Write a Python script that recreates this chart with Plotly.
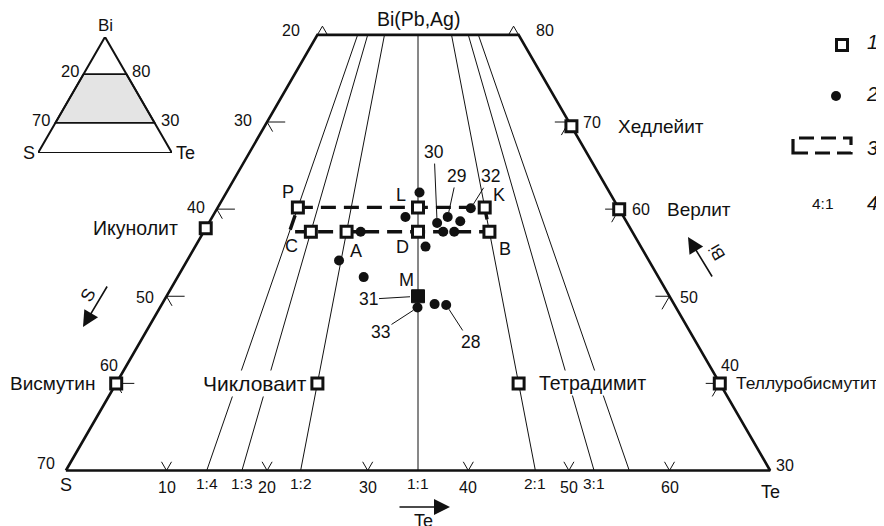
import math
import plotly.graph_objects as go

# ---------------- data (atomic %) ----------------
BI_BOTTOM, BI_TOP = 30, 80

# Te:S ratio lines radiating from the Bi apex
ratio_te = [1, 1, 1, 1, 2, 3, 4]
ratio_s = [4, 3, 2, 1, 1, 1, 1]
ratio_labels = ["1:4", "1:3", "1:2", "1:1", "2:1", "3:1", ""]

bottom_tick_te = [10, 20, 30, 40, 50, 60]
left_tick_s = [30, 40, 50, 60]
right_tick_bi = [70, 60, 50, 40]

# natural minerals (open squares)
mineral_names = ["Икунолит", "Висмутин", "Хедлейит", "Верлит",
                 "Теллуробисмутит", "Чикловаит", "Тетрадимит"]
mineral_bi = [57.8, 40.0, 69.5, 60.0, 40.0, 40.0, 40.0]
mineral_te = [0.0, 0.0, 30.5, 40.0, 60.0, 20.0, 40.0]

# synthetic phases (open squares)
phase_names = ["P", "L", "K", "C", "A", "D", "B"]
phase_bi = [60.2, 60.2, 60.2, 57.4, 57.4, 57.4, 57.4]
phase_te = [7.96, 19.9, 26.53, 10.65, 14.2, 21.3, 28.4]

# phase M (filled square)
m_bi = [50.0]
m_te = [25.0]

# dashed field (item 3)
field_bi = [60.2, 60.2, 57.4, 57.4, 60.2]
field_te = [7.96, 26.53, 28.4, 8.52, 7.96]

# analyses (dots)
dot_bi = [61.9, 60.1, 59.1, 59.1, 58.4, 58.6, 57.4, 57.4, 57.4,
          55.7, 54.1, 52.2, 48.7, 49.1, 49.0]
dot_te = [19.2, 25.2, 19.2, 23.4, 22.7, 24.9, 15.6, 23.8, 24.9,
          22.9, 15.1, 18.5, 25.6, 27.1, 28.3]

# numbered analyses
num_labels = ["28", "29", "30", "31", "32", "33"]
num_bi = [49.0, 59.1, 58.4, 50.0, 60.1, 48.7]
num_te = [28.3, 23.4, 22.7, 25.0, 25.2, 25.6]

# inset (schematic)
inset_band_bi = [68, 26]
inset_left_labels = ["20", "70"]
inset_right_labels = ["80", "30"]

# ---------------- helpers ----------------
SQ = math.sqrt(3) / 2
OFF = 8            # page body margin of the html page
W, H = 884 - OFF, 526 - OFF
PXU = 10.06        # pixels per composition unit


def X(bi, te):
    return te + bi / 2.0


def Y(bi):
    return bi * SQ


def P(px, py):
    """screen pixel -> paper fraction (decorations only)"""
    return (px - OFF) / W, 1 - (py - OFF) / H


BLACK = "#111111"
FONT = "Liberation Sans, Arial, sans-serif"

fig = go.Figure()

# ratio lines
lx, ly = [], []
for t, s in zip(ratio_te, ratio_s):
    for bi in (BI_TOP, BI_BOTTOM):
        te = (100 - bi) * t / (t + s)
        lx.append(X(bi, te))
        ly.append(Y(bi))
    lx.append(None)
    ly.append(None)
fig.add_trace(go.Scatter(x=lx, y=ly, mode="lines",
                         line=dict(color=BLACK, width=1), hoverinfo="skip"))

# tick strokes
tkx, tky = [], []


def seg(b1, t1, b2, t2):
    tkx.extend([X(b1, t1), X(b2, t2), None])
    tky.extend([Y(b1), Y(b2), None])


for te in bottom_tick_te:
    seg(BI_BOTTOM, te, BI_BOTTOM + 1.0, te)
    seg(BI_BOTTOM, te, BI_BOTTOM + 1.0, te - 1.0)
for s in left_tick_s:
    bi = 100 - s
    seg(bi, 0, bi, 1.8)
    seg(bi, 0, bi - 1.1, 1.1)
for b in right_tick_bi:
    te = 100 - b
    seg(b, te, b, te - 1.4)
    seg(b, te, b - 1.5, te)
# corner carets
seg(BI_TOP, 0, BI_TOP + 1, 0)
seg(BI_TOP + 1, 0, BI_TOP, 1)
seg(BI_TOP, 20, BI_TOP + 1, 19)
seg(BI_TOP + 1, 19, BI_TOP, 19)
fig.add_trace(go.Scatter(x=tkx, y=tky, mode="lines",
                         line=dict(color=BLACK, width=1), hoverinfo="skip"))

# trapezoid outline
ob = [BI_BOTTOM, BI_TOP, BI_TOP, BI_BOTTOM, BI_BOTTOM]
ot = [0, 0, 100 - BI_TOP, 100 - BI_BOTTOM, 0]
fig.add_trace(go.Scatter(x=[X(b, t) for b, t in zip(ob, ot)], y=[Y(b) for b in ob],
                         mode="lines", line=dict(color=BLACK, width=2.6),
                         hoverinfo="skip"))

# dashed field
fig.add_trace(go.Scatter(x=[X(b, t) for b, t in zip(field_bi, field_te)],
                         y=[Y(b) for b in field_bi], mode="lines",
                         line=dict(color=BLACK, width=3.4, dash="15px,8px"),
                         hoverinfo="skip"))

# dots
fig.add_trace(go.Scatter(x=[X(b, t) for b, t in zip(dot_bi, dot_te)],
                         y=[Y(b) for b in dot_bi], mode="markers",
                         marker=dict(color=BLACK, size=10, line=dict(width=0)),
                         hoverinfo="skip"))

# squares
sq_bi = mineral_bi + phase_bi
sq_te = mineral_te + phase_te
fig.add_trace(go.Scatter(x=[X(b, t) for b, t in zip(sq_bi, sq_te)],
                         y=[Y(b) for b in sq_bi], mode="markers",
                         marker=dict(symbol="square", color="white", size=11,
                                     line=dict(color=BLACK, width=3)),
                         hoverinfo="skip"))
fig.add_trace(go.Scatter(x=[X(b, t) for b, t in zip(m_bi, m_te)],
                         y=[Y(b) for b in m_bi], mode="markers",
                         marker=dict(symbol="square", color=BLACK, size=13,
                                     line=dict(color=BLACK, width=1)),
                         hoverinfo="skip"))

ann = []


def txt(x, y, text, size=16, xanchor="center", yanchor="middle", xshift=0,
        yshift=0, ref=("x", "y"), bg=None, italic=False, angle=0):
    d = dict(x=x, y=y, xref=ref[0], yref=ref[1], text=text, showarrow=False,
             xanchor=xanchor, yanchor=yanchor, xshift=xshift, yshift=yshift,
             textangle=angle,
             font=dict(family=FONT, size=size, color=BLACK,
                       style="italic" if italic else "normal"))
    if bg:
        d["bgcolor"] = bg
        d["borderpad"] = 1
    ann.append(d)


# bottom tick labels
for te in bottom_tick_te:
    txt(X(BI_BOTTOM, te), Y(BI_BOTTOM), str(te), yshift=-17)
for t, s, lab in zip(ratio_te, ratio_s, ratio_labels):
    if lab:
        te = (100 - BI_BOTTOM) * t / (t + s)
        txt(X(BI_BOTTOM, te), Y(BI_BOTTOM), lab, size=15.5, yshift=-13)

# left tick labels (S)
left_shift = {30: (-13, 2, "right"), 40: (-10, 2, "right"),
              50: (-11, -1, "right"), 60: (-7, 18, "center")}
for s in left_tick_s:
    xs, ys, xa = left_shift[s]
    txt(X(100 - s, 0), Y(100 - s), str(s), xanchor=xa, xshift=xs, yshift=ys)

# right tick labels (Bi)
right_shift = {70: (12, 0, "left"), 60: (11, 0, "left"),
               50: (8, -1, "left"), 40: (-1, 18, "left")}
for b in right_tick_bi:
    xs, ys, xa = right_shift[b]
    txt(X(b, 100 - b), Y(b), str(b), xanchor=xa, xshift=xs, yshift=ys)

# corner labels
txt(X(BI_TOP, 0), Y(BI_TOP), "20", xanchor="right", xshift=-15, yshift=4)
txt(X(BI_TOP, 100 - BI_TOP), Y(BI_TOP), "80", xanchor="left", xshift=15, yshift=4)
txt(X(BI_BOTTOM, 0), Y(BI_BOTTOM), "70", xanchor="right", xshift=-9, yshift=7)
txt(X(BI_BOTTOM, 100 - BI_BOTTOM), Y(BI_BOTTOM), "30", xanchor="left", xshift=4, yshift=5)
txt(X(BI_BOTTOM, 0), Y(BI_BOTTOM), "S", size=18, yshift=-14)
txt(X(BI_BOTTOM, 100 - BI_BOTTOM), Y(BI_BOTTOM), "Te", size=18, yshift=-21)
txt(X(BI_TOP, 10), Y(BI_TOP), "Bi(Pb,Ag)", size=19.5, yshift=16)

# mineral names
min_style = {"Икунолит": ("right", -26, None, 19.5), "Висмутин": ("right", -19, None, 19),
             "Хедлейит": ("left", 45, None, 19), "Верлит": ("left", 46, None, 19),
             "Теллуробисмутит": ("left", 14, None, 17.4),
             "Чикловаит": ("right", -8, "white", 21),
             "Тетрадимит": ("left", 18, "white", 19.5)}
for n, b, t in zip(mineral_names, mineral_bi, mineral_te):
    xa, xs, bg, fs = min_style[n]
    txt(X(b, t), Y(b), n, size=fs, xanchor=xa, xshift=xs, bg=bg)

# phase letters
phase_shift = {"P": (-10, 15), "L": (-17, 12), "K": (14, 12), "C": (-19, -14),
               "A": (9, -19), "D": (-16, -15), "B": (16, -17)}
for n, b, t in zip(phase_names, phase_bi, phase_te):
    xs, ys = phase_shift[n]
    txt(X(b, t), Y(b), n, size=18, xshift=xs, yshift=ys)
txt(X(m_bi[0], m_te[0]), Y(m_bi[0]), "M", size=18, xshift=-12, yshift=16)

# numbered analyses with leader lines
num_off = {"28": (24, 37, 5), "29": (9, -41, 5), "30": (-3, -71, 5),
           "31": (-50, 3, 8), "32": (20, -32, 5), "33": (-37, 24, 5)}
for n, b, t in zip(num_labels, num_bi, num_te):
    ax, ay, so = num_off[n]
    ann.append(dict(x=X(b, t), y=Y(b), xref="x", yref="y", text=n,
                    showarrow=True, arrowhead=0, arrowwidth=1, arrowcolor=BLACK,
                    ax=ax, ay=ay, standoff=so,
                    font=dict(family=FONT, size=17.5, color=BLACK)))

# direction arrows (paper coordinates)
for head, tail in [((83, 327), (108, 285)), ((688, 237), (713, 278)),
                   ((450, 507), (398, 507))]:
    hx, hy = P(*head)
    ann.append(dict(x=hx, y=hy, xref="paper", yref="paper", text="",
                    showarrow=True, arrowhead=2, arrowsize=2.0, arrowwidth=1.6,
                    arrowcolor=BLACK, ax=tail[0] - head[0], ay=tail[1] - head[1]))
sx, sy = P(88, 295)
txt(sx, sy, "S", size=18, ref=("paper", "paper"), angle=-60)
bx, by = P(717, 253)
txt(bx, by, "Bi", size=17, ref=("paper", "paper"), angle=-120)
tex, tey = P(423, 521)
txt(tex, tey, "Te", size=18, ref=("paper", "paper"))

# legend (paper)
shapes = []
lx1, ly1 = P(842, 45)
shapes.append(dict(type="rect", xref="paper", yref="paper", xsizemode="pixel",
                   ysizemode="pixel", xanchor=lx1, yanchor=ly1,
                   x0=-5.5, x1=5.5, y0=-5.5, y1=5.5,
                   line=dict(color=BLACK, width=3), fillcolor="white"))
lx2, ly2 = P(836, 96)
shapes.append(dict(type="circle", xref="paper", yref="paper", xsizemode="pixel",
                   ysizemode="pixel", xanchor=lx2, yanchor=ly2,
                   x0=-5, x1=5, y0=-5, y1=5,
                   line=dict(color=BLACK, width=0), fillcolor=BLACK))
ra, rb = P(793, 138)
rc, rd = P(851, 153)
shapes.append(dict(type="rect", xref="paper", yref="paper", x0=ra, x1=rc,
                   y0=rd, y1=rb, line=dict(color=BLACK, width=3.2, dash="15px,7px")))
for i, py in enumerate([42, 94, 148, 203]):
    x_, y_ = P(872, py)
    txt(x_, y_, str(i + 1), size=20, ref=("paper", "paper"), italic=True)
x_, y_ = P(823, 203)
txt(x_, y_, "4:1", size=15.5, ref=("paper", "paper"))

# ---------------- inset ----------------
ib = [0, 100, 0, 0]
it = [0, 0, 100, 0]
bx0 = [X(inset_band_bi[0], 0), X(inset_band_bi[0], 100 - inset_band_bi[0]),
       X(inset_band_bi[1], 100 - inset_band_bi[1]), X(inset_band_bi[1], 0),
       X(inset_band_bi[0], 0)]
by0 = [Y(inset_band_bi[0]), Y(inset_band_bi[0]), Y(inset_band_bi[1]),
       Y(inset_band_bi[1]), Y(inset_band_bi[0])]
fig.add_trace(go.Scatter(x=bx0, y=by0, xaxis="x2", yaxis="y2", mode="lines",
                         fill="toself", fillcolor="#e4e4e4",
                         line=dict(color=BLACK, width=1.8), hoverinfo="skip"))
fig.add_trace(go.Scatter(x=[X(b, t) for b, t in zip(ib, it)], y=[Y(b) for b in ib],
                         xaxis="x2", yaxis="y2", mode="lines",
                         line=dict(color=BLACK, width=2), hoverinfo="skip",
                         cliponaxis=False))
r2 = ("x2", "y2")
txt(X(100, 0), Y(100), "Bi", size=17, ref=r2, yshift=11)
txt(X(0, 0), Y(0), "S", size=18, ref=r2, xanchor="right", xshift=-1)
txt(X(0, 100), Y(0), "Te", size=18, ref=r2, xanchor="left", xshift=2)
for b, lab_l, lab_r in zip(inset_band_bi, inset_left_labels, inset_right_labels):
    txt(X(b, 0), Y(b), lab_l, size=16.5, ref=r2, xanchor="right", xshift=-3, yshift=3)
    txt(X(b, 100 - b), Y(b), lab_r, size=16.5, ref=r2, xanchor="left", xshift=4, yshift=3)

# axis ranges so that the S-Te corners land at screen x 66 / 770, base at y 470.5
x_lo = 50 - (418 - OFF) / PXU
y_hi = BI_BOTTOM * SQ + (470.5 - OFF) / PXU
ix0, ix1 = P(38, 0)[0], P(172, 0)[0]
iy0, iy1 = P(0, 153)[1], P(0, 153 - 100 * SQ * 134 / 100)[1]

fig.update_layout(
    width=W, height=H, margin=dict(l=0, r=0, t=0, b=0, pad=0),
    paper_bgcolor="white", plot_bgcolor="white", showlegend=False,
    xaxis=dict(range=[x_lo, x_lo + W / PXU], visible=False, domain=[0, 1], fixedrange=True),
    yaxis=dict(range=[y_hi - H / PXU, y_hi], visible=False, domain=[0, 1], fixedrange=True),
    xaxis2=dict(range=[0, 100], visible=False, domain=[ix0, ix1],
                anchor="y2", fixedrange=True),
    yaxis2=dict(range=[0, 100 * SQ], visible=False,
                domain=[iy0, iy1], anchor="x2", fixedrange=True),
    annotations=ann, shapes=shapes,
)

fig.write_html("out.html")
